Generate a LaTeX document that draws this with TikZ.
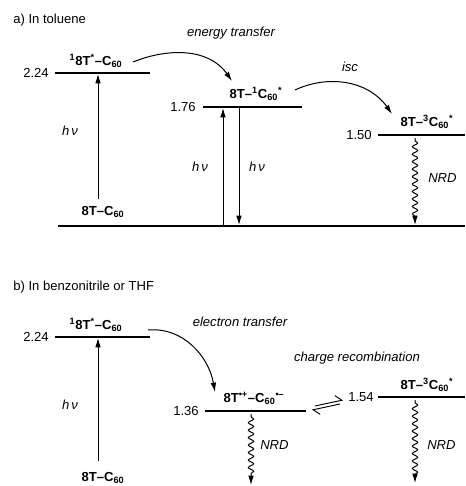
\documentclass[tikz,border=0pt]{standalone}
\usepackage{fontspec}
\setmainfont{Liberation Sans}
\usepackage{tikz}
\usetikzlibrary{arrows.meta,decorations.pathmorphing}
\definecolor{lv-line}{HTML}{000000}

\begin{document}
\fontsize{9.8}{12}\selectfont
\begin{tikzpicture}[x=0.75pt,y=-0.75pt,
    level/.style={lv-line,line width=0.9pt},
    en/.style={anchor=east,inner sep=0pt},
    st/.style={font=\bfseries,inner sep=0pt},
    lbl/.style={font=\itshape,inner sep=0pt},
    tip/.style={-{Latex[length=7pt,width=4.2pt]},line width=0.75pt},
    nrd/.style={tip,decorate,decoration={snake,amplitude=2pt,segment length=5.6pt,pre length=2pt,post length=6pt}},
    hp/.style={-{Straight Barb[left,length=4.5pt]},line width=0.7pt}]
    \useasboundingbox (0,0) rectangle (465,486);
    % a) toluene
    \node[anchor=west,inner sep=0pt] (ta) at (13,20) {a) In toluene};
    \coordinate (a1l) at (55,73);   \coordinate (a1r) at (150,73);
    \coordinate (a2l) at (203,107); \coordinate (a2r) at (302,107);
    \coordinate (a3l) at (378,135); \coordinate (a3r) at (465,135);
    \coordinate (gl) at (58,226);   \coordinate (gr) at (465,226);
    \draw[level] (a1l) -- (a1r);
    \draw[level] (a2l) -- (a2r);
    \draw[level] (a3l) -- (a3r);
    \draw[level] (gl) -- (gr);
    \node[en] (ea1) at (49,73) {2.24};
    \node[en] (ea2) at (196,107) {1.76};
    \node[en] (ea3) at (372,135) {1.50};
    \node[st] (sa1) at (96,61) {\textsuperscript{1}8T\textsuperscript{*}–C\textsubscript{60}};
    \node[st] (sa2) at (256,94) {8T–\textsuperscript{1}C\textsubscript{60}\textsuperscript{*}};
    \node[st] (sa3) at (427,122) {8T–\textsuperscript{3}C\textsubscript{60}\textsuperscript{*}};
    \node[st] (sa0) at (103,212) {8T–C\textsubscript{60}};
    \coordinate (pa0) at (98,199);  \coordinate (pa1) at (98,74);
    \coordinate (ua0) at (223,226); \coordinate (ua1) at (223,108);
    \coordinate (da1) at (239,107); \coordinate (da0) at (239,225);
    \draw[tip] (pa0) -- (pa1);
    \draw[tip] (ua0) -- (ua1);
    \draw[tip] (da1) -- (da0);
    \node[lbl] (hva1) at (70,131) {h\,ν};
    \node[lbl] (hva2) at (200,167) {h\,ν};
    \node[lbl] (hva3) at (257,167) {h\,ν};
    \coordinate (eta) at (133,62); \coordinate (etb) at (232,81);
    \draw[tip] (eta) to[out=22,in=125] (etb);
    \node[lbl] (let) at (231,33) {energy transfer};
    \coordinate (isa) at (295,90); \coordinate (isb) at (392,114);
    \draw[tip] (isa) to[out=25,in=125] (isb);
    \node[lbl] (lis) at (350,67) {isc};
    \coordinate (na0) at (415,138); \coordinate (na1) at (415,225);
    \draw[nrd] (na0) -- (na1);
    \node[lbl,anchor=west] (nra) at (428,178) {NRD};
    % b) benzonitrile / THF
    \node[anchor=west,inner sep=0pt] (tb) at (13,287) {b) In benzonitrile or THF};
    \coordinate (b1l) at (55,337);  \coordinate (b1r) at (150,337);
    \coordinate (b2l) at (205,411); \coordinate (b2r) at (306,411);
    \coordinate (b3l) at (378,397); \coordinate (b3r) at (465,397);
    \draw[level] (b1l) -- (b1r);
    \draw[level] (b2l) -- (b2r);
    \draw[level] (b3l) -- (b3r);
    \node[en] (eb1) at (49,337) {2.24};
    \node[en] (eb2) at (199,411) {1.36};
    \node[en] (eb3) at (374,397) {1.54};
    \node[st] (sb1) at (96,325) {\textsuperscript{1}8T\textsuperscript{*}–C\textsubscript{60}};
    \node[st] (sb2) at (254,398) {8T\textsuperscript{•+}–C\textsubscript{60}\textsuperscript{•–}};
    \node[st] (sb3) at (427,385) {8T–\textsuperscript{3}C\textsubscript{60}\textsuperscript{*}};
    \node[st] (sb0) at (103,478) {8T–C\textsubscript{60}};
    \coordinate (pb0) at (98,461);  \coordinate (pb1) at (98,338);
    \draw[tip] (pb0) -- (pb1);
    \node[lbl] (hvb1) at (70,405) {h\,ν};
    \coordinate (eta2) at (148,330); \coordinate (etb2) at (215,392);
    \draw[tip] (eta2) to[out=5,in=100] (etb2);
    \node[lbl] (lel) at (240,322) {electron transfer};
    \node[lbl] (lcr) at (357,358) {charge recombination};
    \coordinate (ha0) at (315,406); \coordinate (ha1) at (343,400);
    \coordinate (hb0) at (340,404); \coordinate (hb1) at (312,410);
    \draw[hp] (ha0) -- (ha1);
    \draw[hp] (hb0) -- (hb1);
    \coordinate (nb0) at (251,414); \coordinate (nb1) at (251,485);
    \draw[nrd] (nb0) -- (nb1);
    \node[lbl,anchor=west] (nrb) at (260,445) {NRD};
    \coordinate (nc0) at (415,400); \coordinate (nc1) at (415,483);
    \draw[nrd] (nc0) -- (nc1);
    \node[lbl,anchor=west] (nrc) at (427,445) {NRD};
\end{tikzpicture}
\end{document}
